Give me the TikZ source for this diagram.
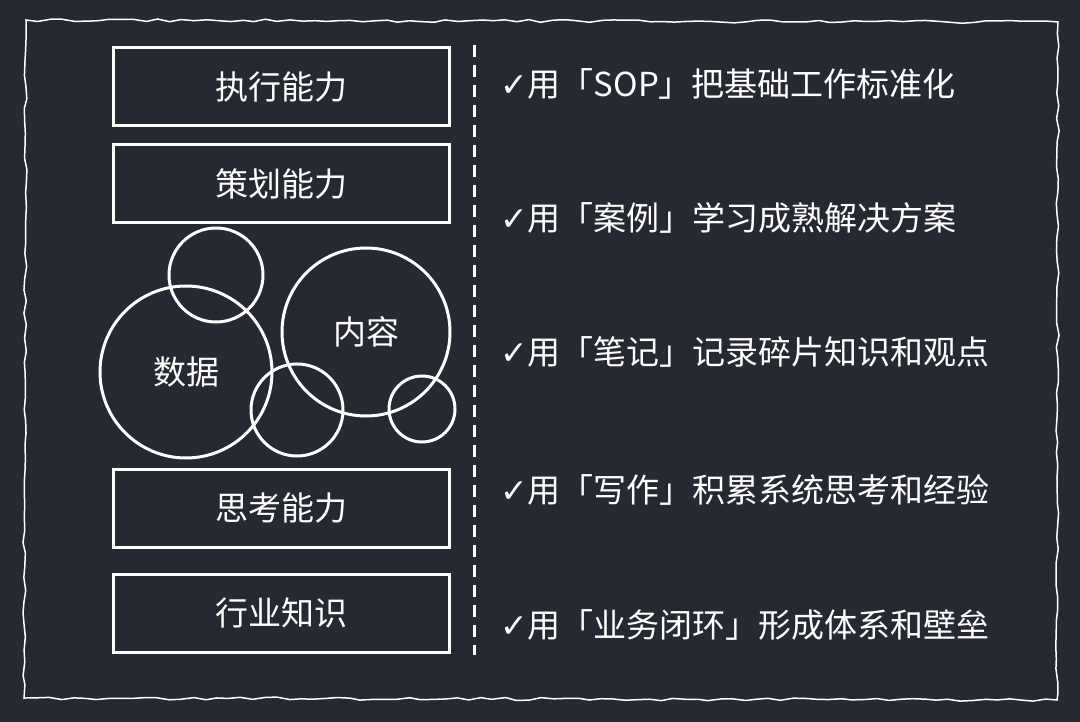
\documentclass[tikz,border=0pt]{standalone}
\usepackage{fontspec}
\setmainfont{Noto Sans CJK SC}
\newfontfamily\symf{DejaVu Sans}
\usetikzlibrary{decorations.pathmorphing}
\definecolor{bg}{HTML}{262931}
\begin{document}
\begin{tikzpicture}[x=1pt,y=-1pt,
  capbox/.style={draw=white,line width=3pt,minimum width=336pt,minimum height=78pt,text=white,font=\fontsize{33}{33}\selectfont},
  circ/.style={draw=white,line width=3pt,circle},
  item/.style={anchor=west,text=white,font=\fontsize{33}{33}\selectfont,inner sep=0pt}]
\fill[bg] (0,0) rectangle (1080,722);
\useasboundingbox (0,0) rectangle (1080,722);
\draw[white,line width=1.5pt,decorate,decoration={random steps,segment length=12pt,amplitude=1.5pt}] (26,20) -- (1058,22) -- (1057,700) -- (24,698) -- cycle;
\node[capbox] (a) at (281,87) {执行能力};
\node[capbox] (b) at (281,184) {策划能力};
\node[capbox] (c) at (281,508) {思考能力};
\node[capbox] (d) at (281,613) {行业知识};
\coordinate (dt) at (474,45);
\coordinate (db) at (474,655);
\draw[white,line width=3pt,dash pattern=on 12pt off 8pt] (dt) -- (db);
\node[circ,minimum size=94pt] (c1) at (216,275) {};
\node[circ,minimum size=172pt,text=white,font=\fontsize{33}{33}\selectfont] (c2) at (186,372) {数据};
\node[circ,minimum size=168pt,text=white,font=\fontsize{33}{33}\selectfont] (c3) at (366,332) {内容};
\node[circ,minimum size=92pt] (c4) at (297,410) {};
\node[circ,minimum size=66pt] (c5) at (422,409) {};
\node[item] (t1) at (500,84) {{\symf\bfseries ✓}用「SOP」把基础工作标准化};
\node[item] (t2) at (500,218) {{\symf\bfseries ✓}用「案例」学习成熟解决方案};
\node[item] (t3) at (500,352) {{\symf\bfseries ✓}用「笔记」记录碎片知识和观点};
\node[item] (t4) at (500,490) {{\symf\bfseries ✓}用「写作」积累系统思考和经验};
\node[item] (t5) at (500,625) {{\symf\bfseries ✓}用「业务闭环」形成体系和壁垒};
\end{tikzpicture}
\end{document}
